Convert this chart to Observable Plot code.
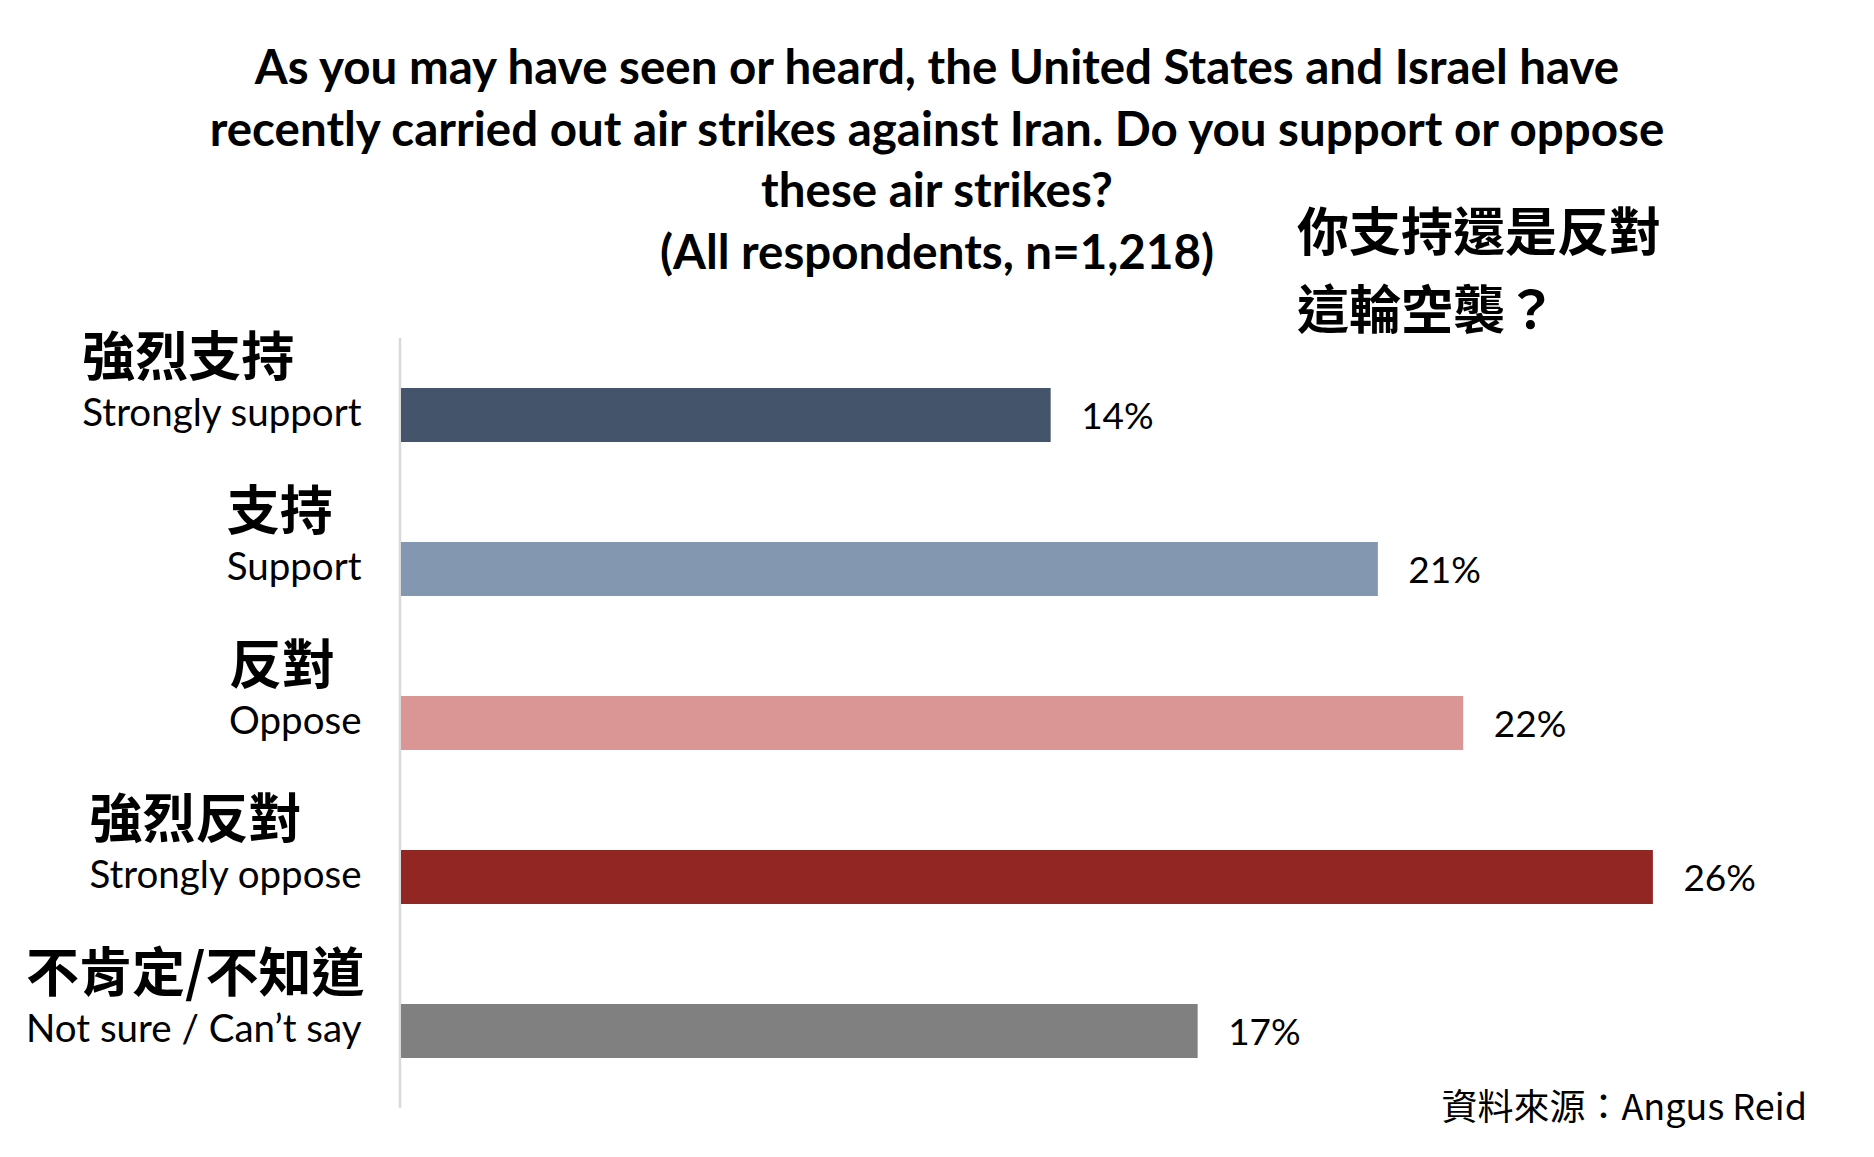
<!DOCTYPE html>
<html>
<head>
<meta charset="utf-8">
<script src="https://cdn.jsdelivr.net/npm/d3@7"></script>
<script src="https://cdn.jsdelivr.net/npm/@observablehq/plot@0.6"></script>
<style>
  html, body { margin: 0; padding: 0; background: #fff; }
  #wrap { position: relative; width: 1874px; height: 1157px; overflow: hidden; background: #fff; }
  #title {
    position: absolute; left: 0; top: 35px; width: 1874px; text-align: center;
    font-family: Lato, "Noto Sans", sans-serif; font-weight: 700; font-size: 47.5px;
    line-height: 61.5px; color: #000; white-space: nowrap;
  }
  #zhq {
    position: absolute; left: 1297px; top: 190px;
    font-family: "Noto Sans CJK TC", sans-serif; font-weight: 700; font-size: 52px;
    line-height: 78px; color: #000; white-space: nowrap;
  }
  #chart { position: absolute; left: 0; top: 300px; }
  #source {
    position: absolute; right: 67px; top: 1086px;
    font-family: "Noto Sans CJK TC", sans-serif; font-weight: 400; font-size: 36px;
    line-height: 1; color: #000; white-space: nowrap;
  }
</style>
</head>
<body>
<div id="wrap">
  <div id="title"></div>
  <div id="zhq"></div>
  <div id="chart"></div>
  <div id="source"></div>
</div>
<script>
// ---- data ----
const titleLines = [
  "As you may have seen or heard, the United States and Israel have",
  "recently carried out air strikes against Iran. Do you support or oppose",
  "these air strikes?",
  "(All respondents, n=1,218)"
];
const questionZh = ["你支持還是反對", "這輪空襲？"];
const sourceText = "資料來源：Angus Reid";

const labelsZh = ["強烈支持", "支持", "反對", "強烈反對", "不肯定/不知道"];
const labelsEn = ["Strongly support", "Support", "Oppose", "Strongly oppose", "Not sure / Can’t say"];
const values = [13.7, 20.6, 22.4, 26.4, 16.8];
const palette = ["#44546A", "#8497B0", "#DA9694", "#922622", "#808080"];

// ---- text blocks ----
document.getElementById("title").innerHTML = titleLines.join("<br>");
document.getElementById("zhq").innerHTML = questionZh.join("<br>");
document.getElementById("source").textContent = sourceText;

// ---- chart ----
const data = labelsEn.map((en, i) => ({ en, zh: labelsZh[i], value: values[i] }));

const chart = Plot.plot({
  width: 1874,
  height: 810,
  marginTop: 38,
  marginBottom: 2,
  marginLeft: 401,
  marginRight: 50.4,
  style: { background: "transparent", overflow: "visible" },
  x: { domain: [0, 30], axis: null },
  y: { domain: labelsEn, paddingInner: 0.647, paddingOuter: 0.3235, align: 0.5, axis: null },
  color: { domain: labelsEn, range: palette },
  marks: [
    Plot.ruleX([0], { stroke: "#d9d9d9", strokeWidth: 2.5, dx: -1.5 }),
    Plot.barX(data, { x: "value", y: "en", fill: "en" }),
    Plot.text(data, {
      x: "value", y: "en", text: d => `${Math.round(d.value)}%`,
      textAnchor: "start", lineAnchor: "bottom", dx: 30, dy: 13,
      fontSize: 37, fontFamily: "Lato", fill: "#000"
    }),
    Plot.text(data, {
      x: 0, y: "en", text: "en",
      textAnchor: "end", lineAnchor: "bottom", dx: -40, dy: 10,
      fontSize: 38.5, fontFamily: "Lato", fill: "#000"
    }),
    Plot.text(data, {
      x: 0, y: "en", text: "zh",
      textAnchor: "end", lineAnchor: "bottom", dx: -40, dy: -40,
      fontSize: 53, fontWeight: 700, fontFamily: "Noto Sans CJK TC", fill: "#000"
    })
  ]
});
document.getElementById("chart").appendChild(chart);

// Left-align each Chinese label with the start of its English label
function alignLabels() {
  const groups = chart.querySelectorAll('g[aria-label="text"]');
  if (groups.length < 3) return;
  const en = groups[1].querySelectorAll("text");
  const zh = groups[2].querySelectorAll("text");
  zh.forEach((t, i) => {
    if (!t.dataset.base) t.dataset.base = t.getAttribute("transform") || "";
    t.setAttribute("transform", t.dataset.base);
    const d = en[i].getBoundingClientRect().left - t.getBoundingClientRect().left;
    t.setAttribute("transform", (t.dataset.base + ` translate(${d},0)`).trim());
  });
}
alignLabels();
if (document.fonts && document.fonts.ready) document.fonts.ready.then(alignLabels);
</script>
</body>
</html>
